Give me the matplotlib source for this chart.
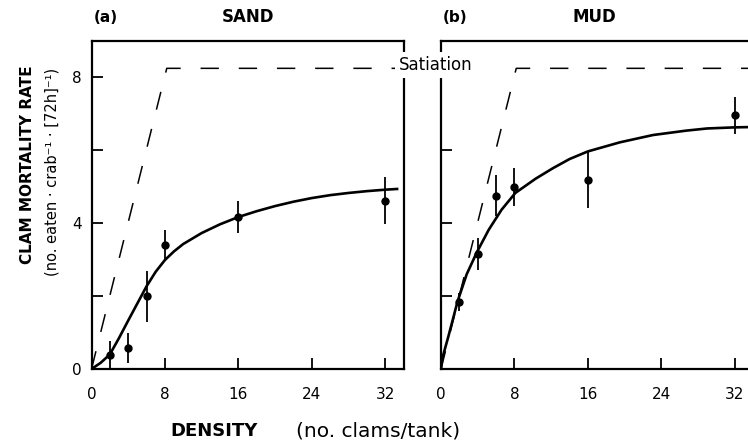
import matplotlib.pyplot as plt

# clam densities offered (no. clams / tank)
density = [2, 4, 6, 8, 16, 32]

# (a) sand: mean mortality and error bar half-length
sand_mean = [0.38, 0.57, 1.99, 3.39, 4.18, 4.62]
sand_err = [0.40, 0.41, 0.70, 0.42, 0.44, 0.65]

# (b) mud
mud_mean = [1.83, 3.16, 4.76, 4.99, 5.19, 6.96]
mud_err = [0.25, 0.44, 0.56, 0.52, 0.76, 0.50]

# fitted curves
sand_fit_x = [0, 1, 2, 3, 4, 5, 6, 7, 8, 9, 10, 12, 14, 16, 18, 20, 22, 24, 26, 28, 30, 32, 33.3]
sand_fit_y = [0, 0.17, 0.40, 0.85, 1.33, 1.80, 2.27, 2.67, 2.99, 3.23, 3.43, 3.73, 3.97, 4.17,
              4.33, 4.47, 4.59, 4.69, 4.77, 4.83, 4.88, 4.92, 4.94]
mud_fit_x = [0, 0.15, 0.8, 1.8, 2.8, 3.9, 5.2, 6.6, 8.1, 10.3, 12.2, 14, 16, 19.5, 23.1, 26.7,
             29, 32, 34]
mud_fit_y = [0, 0.30, 0.89, 1.85, 2.60, 3.20, 3.82, 4.37, 4.83, 5.22, 5.51, 5.76, 5.97, 6.22,
             6.42, 6.54, 6.60, 6.63, 6.64]

# satiation line
sat_x = [0, 8.2, 34]
sat_y = [0, 8.25, 8.25]

W, H = 748, 447
fig = plt.figure(figsize=(W / 100, H / 100), dpi=100)
ax1 = fig.add_axes([91.5 / W, 1 - 369 / H, 312 / W, 328 / H])
ax2 = fig.add_axes([441 / W, 1 - 369 / H, 312 / W, 328 / H])

panels = [(ax1, sand_mean, sand_err, sand_fit_x, sand_fit_y),
          (ax2, mud_mean, mud_err, mud_fit_x, mud_fit_y)]

for ax, mean, err, fx, fy in panels:
    ax.plot(sat_x, sat_y, color='k', lw=1.1, dashes=(12, 13))
    ax.plot(fx, fy, color='k', lw=1.9, solid_joinstyle='round')
    ax.errorbar(density, mean, yerr=err, fmt='o', color='k', ms=5,
                elinewidth=1.3, capsize=0)
    ax.set_xlim(0, 34)
    ax.set_ylim(0, 9)
    ax.set_xticks([0, 8, 16, 24, 32])
    ax.set_xticklabels(['0', '8', '16', '24', '32'])
    ax.tick_params(direction='in', length=8, width=1.3, labelsize=11, color='k')
    ax.tick_params(axis='x', pad=13)
    ax.tick_params(axis='y', pad=7)
    for s in ax.spines.values():
        s.set_linewidth(1.6)

ax1.set_yticks([0, 2, 4, 6, 8])
ax1.set_yticklabels(['0', '', '4', '', '8'])
ax2.set_yticks([2, 4, 6, 8])
ax2.set_yticklabels([])

# panel titles
fig.text(106 / W, 1 - 17 / H, '(a)', ha='center', va='center', fontsize=11, fontweight='bold')
fig.text(248 / W, 1 - 17 / H, 'SAND', ha='center', va='center', fontsize=12, fontweight='bold')
fig.text(455 / W, 1 - 17 / H, '(b)', ha='center', va='center', fontsize=11, fontweight='bold')
fig.text(594 / W, 1 - 17 / H, 'MUD', ha='center', va='center', fontsize=12, fontweight='bold')

# satiation label, white box breaks the spines behind it
fig.text(436 / W, 1 - 65 / H, 'Satiation', ha='center', va='center', fontsize=12,
         bbox=dict(boxstyle='square,pad=0.25', fc='white', ec='none'))

# axis labels
fig.text(28 / W, 1 - 165 / H, 'CLAM MORTALITY RATE', rotation=90, ha='center', va='center',
         fontsize=11, fontweight='bold')
fig.text(52 / W, 1 - 172 / H, '(no. eaten · crab⁻¹ · [72h]⁻¹)', rotation=90, ha='center',
         va='center', fontsize=10.5)
fig.text(214 / W, 1 - 431 / H, 'DENSITY', ha='center', va='center', fontsize=13, fontweight='bold')
fig.text(378 / W, 1 - 431 / H, '(no. clams/tank)', ha='center', va='center', fontsize=14.5)

fig.savefig('out.png', dpi=100)
